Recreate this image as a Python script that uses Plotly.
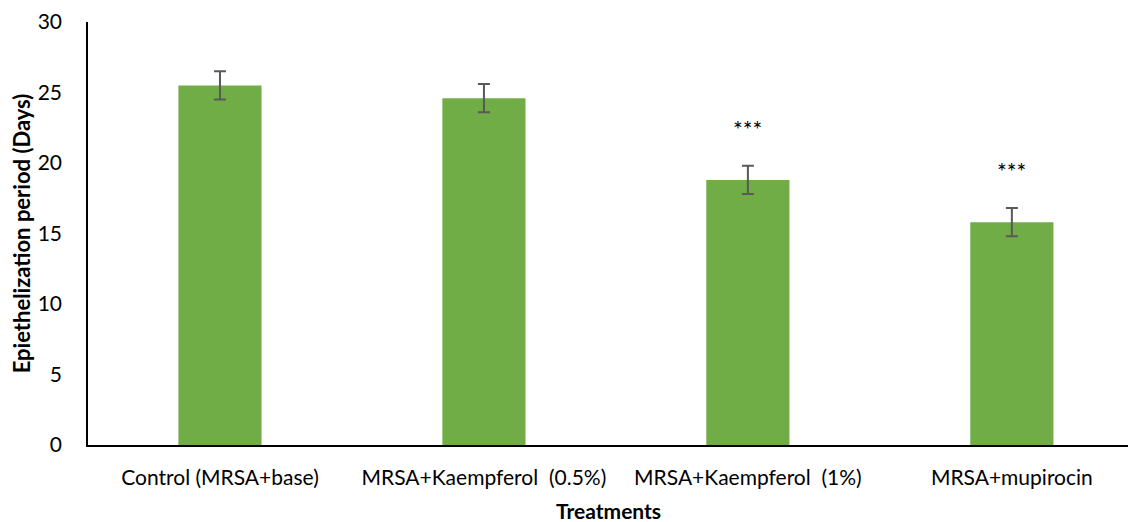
import plotly.graph_objects as go

treatments = ["Control (MRSA+base)", "MRSA+Kaempferol  (0.5%)", "MRSA+Kaempferol  (1%)", "MRSA+mupirocin"]
epithelization_days = [25.5, 24.6, 18.8, 15.8]
error_days = [1.0, 1.0, 1.0, 1.0]
significance = ["", "", "***", "***"]

font_family = "Lato, 'Open Sans', sans-serif"

fig = go.Figure()
fig.add_trace(go.Bar(
    x=list(range(len(treatments))),
    y=epithelization_days,
    width=0.315,
    marker=dict(color="#70AD47", line=dict(width=0)),
    error_y=dict(type="data", array=error_days, visible=True,
                 color="#595959", thickness=2, width=6),
))

for i, (v, e, s) in enumerate(zip(epithelization_days, error_days, significance)):
    if s:
        fig.add_annotation(x=i, y=v + e + 2.6, text=s, showarrow=False,
                           font=dict(family=font_family, size=23, color="#000000"),
                           xanchor="center", yanchor="middle")

# x-axis title placed below the tick labels
fig.add_annotation(x=0.5, xref="paper", y=-0.155, yref="paper",
                   text="<b>Treatments</b>", showarrow=False,
                   font=dict(family=font_family, size=21, color="#000000"),
                   xanchor="center", yanchor="middle")

fig.update_layout(
    width=1128, height=522,
    margin=dict(l=88, r=0, t=22, b=77),
    plot_bgcolor="white", paper_bgcolor="white",
    showlegend=False,
    font=dict(family=font_family, size=21, color="#000000"),
)
fig.update_xaxes(
    tickmode="array", tickvals=list(range(len(treatments))), ticktext=treatments,
    range=[-0.5, 3.44], automargin=False,
    showline=True, linecolor="#000000", linewidth=1.5,
    showgrid=False, zeroline=False, ticks="",
    ticklabelstandoff=13,
    tickfont=dict(size=21),
)
fig.update_yaxes(
    range=[0, 30], tickmode="array", tickvals=[0, 5, 10, 15, 20, 25, 30],
    showline=True, linecolor="#000000", linewidth=1.5,
    showgrid=False, zeroline=False, ticks="", automargin=False,
    ticklabelstandoff=20,
    tickfont=dict(size=21),
    title=dict(text="<b>Epiethelization period (Days)</b>", font=dict(size=22), standoff=1),
)

fig.write_html("out.html")
